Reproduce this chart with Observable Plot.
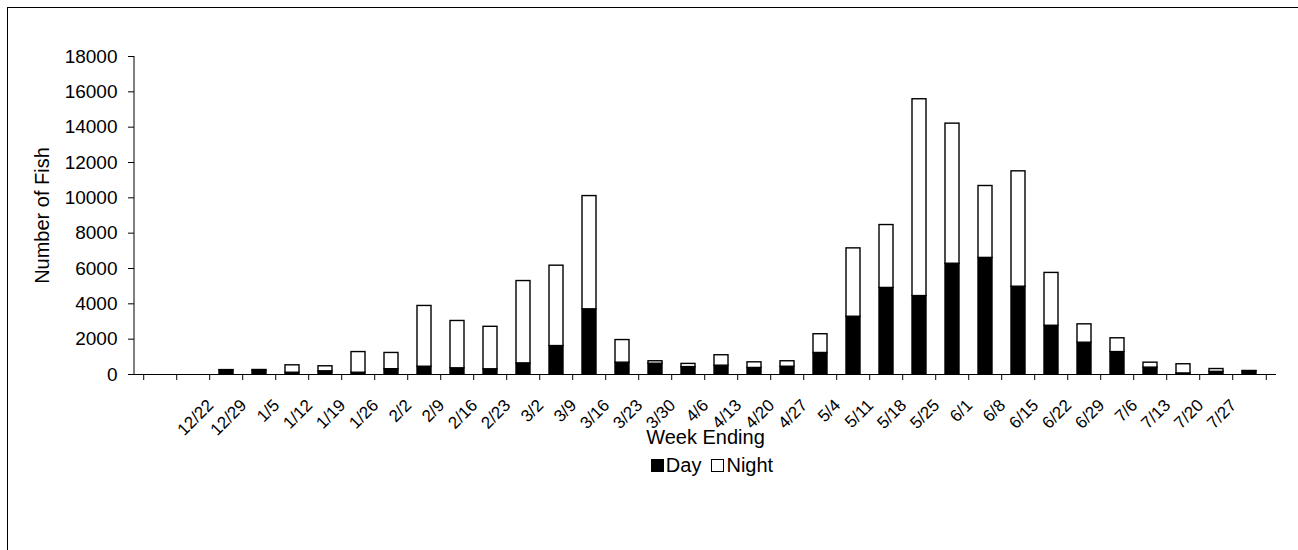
<!DOCTYPE html>
<html><head><meta charset="utf-8">
<script src="https://cdn.jsdelivr.net/npm/d3@7"></script>
<script src="https://cdn.jsdelivr.net/npm/@observablehq/plot@0.6"></script>
<style>
html,body{margin:0;padding:0;background:#fff;}
body{font-family:"Liberation Sans",Arial,sans-serif;}
#wrap{position:relative;width:1298px;height:550px;overflow:hidden;}
#border{position:absolute;left:7px;top:7px;width:1296px;height:600px;border:1.5px solid #000;box-sizing:border-box;pointer-events:none;}
#chart{position:absolute;left:0;top:0;}
#legend{position:absolute;top:454px;left:0;width:1298px;display:flex;justify-content:center;align-items:center;font-size:20px;color:#000;padding-left:136px;box-sizing:border-box;}
#legend .sw{display:inline-block;width:13px;height:13px;border:1px solid #000;box-sizing:border-box;margin-right:2px;}
#legend .item{display:flex;align-items:center;margin-right:10px;}
</style>
</head><body>
<div id="wrap"><div id="chart"></div><div id="legend"></div><div id="border"></div></div>
<script>
// ---- data ----
const emptySlots = ["slot-a", "slot-b"]; // two unlabeled leading categories on the axis
const weeks = ["12/22","12/29","1/5","1/12","1/19","1/26","2/2","2/9","2/16","2/23","3/2","3/9","3/16","3/23","3/30","4/6","4/13","4/20","4/27","5/4","5/11","5/18","5/25","6/1","6/8","6/15","6/22","6/29","7/6","7/13","7/20","7/27"];
const dayCounts   = [230,200,100,180,100,300,440,350,295,630,1610,3690,670,610,420,500,370,440,1220,3270,4900,4440,6270,6600,4970,2760,1800,1270,390,60,150,180];
const nightCounts = [20,55,420,285,1170,920,3440,2680,2405,4660,4550,6410,1280,140,180,590,320,310,1060,3870,3560,11140,7930,4070,6530,2990,1040,780,280,520,160,20];
const series = ["Day", "Night"];
const seriesColors = ["#000000", "#ffffff"];
const yTicks = [0,2000,4000,6000,8000,10000,12000,14000,16000,18000];
const yTitle = "Number of Fish";
const xTitle = "Week Ending";

// ---- table ----
const rows = [];
weeks.forEach((w, i) => {
  rows.push({week: w, period: "Day", count: dayCounts[i]});
  rows.push({week: w, period: "Night", count: nightCounts[i]});
});

const W = 1298, H = 550, mL = 134, mR = 22, mT = 56, mB = 176;
const domain = [...emptySlots, ...weeks];
const step = (W - mL - mR) / domain.length;
const font = "Liberation Sans, Arial, sans-serif";

const yAxisLine = (index, scales, values, dims) => {
  const l = document.createElementNS("http://www.w3.org/2000/svg", "line");
  l.setAttribute("x1", dims.marginLeft); l.setAttribute("x2", dims.marginLeft);
  l.setAttribute("y1", dims.marginTop); l.setAttribute("y2", dims.height - dims.marginBottom);
  l.setAttribute("stroke", "#000");
  return l;
};

const chart = Plot.plot({
  width: W, height: H,
  marginLeft: mL, marginRight: mR, marginTop: mT, marginBottom: mB,
  style: {fontFamily: font, background: "transparent", overflow: "visible"},
  x: {type: "band", domain, paddingInner: 0.57, paddingOuter: 0.285, axis: null},
  y: {domain: [0, 18000], axis: null},
  color: {domain: series, range: seriesColors},
  marks: [
    Plot.barY(rows, {x: "week", y: "count", fill: "period", stroke: "#000", strokeWidth: 1.4, order: series}),
    Plot.ruleY([0], {stroke: "#000"}),
    yAxisLine,
    Plot.axisY(yTicks, {tickSize: 6, tickPadding: 11, fontSize: 19, label: null, tickFormat: d => String(d), stroke: "#000", color: "#000"}),
    Plot.axisX(domain, {tickSize: 6, dx: -step / 2, tickFormat: () => "", label: null, stroke: "#000"}),
    Plot.axisX([domain[domain.length - 1]], {tickSize: 6, dx: step / 2, tickFormat: () => "", label: null, stroke: "#000"}),
    Plot.text(weeks, {x: d => d, frameAnchor: "bottom", rotate: -45, textAnchor: "end", lineAnchor: "middle", dx: -16, dy: 28, fontSize: 17, fill: "#000"}),
    Plot.text([xTitle], {frameAnchor: "bottom", textAnchor: "middle", lineAnchor: "middle", dy: 63, fontSize: 20, fill: "#000"}),
    Plot.text([yTitle], {frameAnchor: "left", textAnchor: "middle", lineAnchor: "middle", rotate: -90, dx: -92, fontSize: 20, fill: "#000"})
  ]
});
document.getElementById("chart").appendChild(chart);

const legend = document.getElementById("legend");
series.forEach((s, i) => {
  const item = document.createElement("span");
  item.className = "item";
  const sw = document.createElement("span");
  sw.className = "sw";
  sw.style.background = seriesColors[i];
  item.appendChild(sw);
  item.appendChild(document.createTextNode(s));
  legend.appendChild(item);
});
</script>
</body></html>
